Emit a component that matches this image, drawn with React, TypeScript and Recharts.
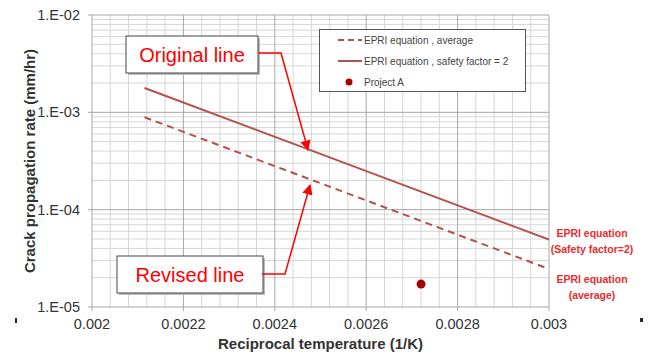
import React from 'react';
import { ComposedChart, Line, Scatter, XAxis, YAxis, ReferenceLine, Legend, Label } from 'recharts';

// reciprocal temperature (1/K) at both ends of the EPRI lines
const lineX = [0.002115, 0.003];
const averageRate = [8.9e-4, 2.46e-5];
const safetyRate = [1.78e-3, 4.92e-5];

const projectX = [0.00272];
const projectRate = [1.72e-5];

const xTicks = [0.002, 0.0022, 0.0024, 0.0026, 0.0028, 0.003];
const yTicks = [1e-5, 1e-4, 1e-3, 1e-2];

const averageData = lineX.map((x, i) => ({ x, y: averageRate[i] }));
const safetyData = lineX.map((x, i) => ({ x, y: safetyRate[i] }));
const projectData = projectX.map((x, i) => ({ x, y: projectRate[i] }));

// grid: 5 vertical subdivisions per major tick, log minors 2..9 per decade
const xMinor: number[] = [];
for (let i = 1; i < 25; i++) {
  if (i % 5 !== 0) xMinor.push(+(0.002 + i * 0.00004).toFixed(5));
}
const yMinor: number[] = [];
[-5, -4, -3].forEach((d) => {
  for (let k = 2; k <= 9; k++) yMinor.push(k * Math.pow(10, d));
});

const LINE_COLOR = '#b4504e';
const DOT_COLOR = '#a80000';
const MINOR = '#d6d6d6';
const MAJOR = '#a8a8a8';
const FONT = '"Liberation Sans", Arial, sans-serif';

const fmtY = (v: number) => {
  const e = Math.round(Math.log10(v));
  return `1.E-${String(Math.abs(e)).padStart(2, '0')}`;
};
const fmtX = (v: number) => String(parseFloat(v.toFixed(4)));

const ChartLegend = () => (
  <svg width={207} height={63} style={{ display: 'block' }}>
    <rect x={0.5} y={0.5} width={206} height={62} fill="#fff" stroke="#555" />
    <line x1={19} x2={43} y1={11} y2={11} stroke={LINE_COLOR} strokeWidth={2} strokeDasharray="6 4" />
    <text x={45} y={14.5} fontSize={10} fill="#444" fontFamily={FONT}>EPRI equation , average</text>
    <line x1={19} x2={43} y1={32} y2={32} stroke={LINE_COLOR} strokeWidth={2} />
    <text x={45} y={35.5} fontSize={10} fill="#444" fontFamily={FONT}>EPRI equation , safety factor = 2</text>
    <circle cx={30} cy={53} r={3.5} fill={DOT_COLOR} />
    <text x={45} y={56.5} fontSize={10} fill="#444" fontFamily={FONT}>Project A</text>
  </svg>
);

const Callout = ({ x, y, w, h, text }: { x: number; y: number; w: number; h: number; text: string }) => (
  <g>
    <rect x={x + 2} y={y + 2} width={w} height={h} fill="#bbb" />
    <rect x={x} y={y} width={w} height={h} fill="#fff" stroke="#444" />
    <text x={x + w / 2} y={y + h / 2 + 7} textAnchor="middle" fontSize={20} fill="#ff0000" fontFamily={FONT}>
      {text}
    </text>
  </g>
);

export default function App() {
  return (
    <div style={{ position: 'absolute', left: 0, top: 0, width: 648, height: 356, background: '#fff', fontFamily: FONT }}>
      <ComposedChart width={648} height={356} margin={{ top: 15, right: 99, bottom: 0, left: 0 }}>
        <XAxis
          type="number"
          dataKey="x"
          domain={[0.002, 0.003]}
          ticks={xTicks}
          tickFormatter={fmtX}
          height={49}
          tick={{ fontSize: 14.5, fill: '#333' }}
          tickSize={4}
          tickMargin={8}
          tickLine={{ stroke: MAJOR }}
          axisLine={{ stroke: MAJOR }}
          allowDataOverflow
        >
          <Label
            value="Reciprocal temperature (1/K)"
            position="insideBottom"
            offset={7}
            style={{ fontSize: 15, fontWeight: 'bold', fill: '#333' }}
          />
        </XAxis>
        <YAxis
          type="number"
          dataKey="y"
          scale="log"
          domain={[1e-5, 1e-2]}
          ticks={yTicks}
          tickFormatter={fmtY}
          width={92}
          tick={{ fontSize: 14.5, fill: '#333' }}
          tickSize={4}
          tickMargin={8}
          tickLine={{ stroke: MAJOR }}
          axisLine={{ stroke: MAJOR }}
          allowDataOverflow
        >
          <Label
            value="Crack propagation rate (mm/hr)"
            angle={-90}
            position="insideLeft"
            offset={30}
            style={{ fontSize: 15, fontWeight: 'bold', fill: '#333', textAnchor: 'middle' }}
          />
        </YAxis>

        {xMinor.map((v) => (
          <ReferenceLine key={`xm${v}`} x={v} stroke={MINOR} strokeWidth={1} />
        ))}
        {yMinor.map((v) => (
          <ReferenceLine key={`ym${v}`} y={v} stroke={MINOR} strokeWidth={1} />
        ))}
        {xTicks.slice(1).map((v) => (
          <ReferenceLine key={`xM${v}`} x={v} stroke={MAJOR} strokeWidth={1} />
        ))}
        {yTicks.slice(1).map((v) => (
          <ReferenceLine key={`yM${v}`} y={v} stroke={MAJOR} strokeWidth={1} />
        ))}

        <Line
          data={averageData}
          dataKey="y"
          type="linear"
          stroke={LINE_COLOR}
          strokeWidth={2}
          strokeDasharray="7 5"
          dot={false}
          isAnimationActive={false}
        />
        <Line
          data={safetyData}
          dataKey="y"
          type="linear"
          stroke={LINE_COLOR}
          strokeWidth={2}
          dot={false}
          isAnimationActive={false}
        />
        <Scatter
          data={projectData}
          dataKey="y"
          isAnimationActive={false}
          shape={(p: any) => <circle cx={p.cx} cy={p.cy} r={4.5} fill={DOT_COLOR} />}
        />

        <Legend
          layout="vertical"
          align="center"
          verticalAlign="middle"
          content={() => <ChartLegend />}
          wrapperStyle={{ left: 319, top: 29, width: 207, height: 63 }}
        />
      </ComposedChart>

      <svg width={648} height={356} style={{ position: 'absolute', left: 0, top: 0, pointerEvents: 'none' }}>
        <defs>
          <marker id="arrow" viewBox="0 0 10 10" refX="9" refY="5" markerWidth="7" markerHeight="7" orient="auto-start-reverse">
            <path d="M0,0 L10,5 L0,10 z" fill="#ff0000" />
          </marker>
        </defs>

        <Callout x={126} y={36} w={132} h={37} text="Original line" />
        <polyline points="258,53 281,53 308,150" fill="none" stroke="#ff0000" strokeWidth={1.5} markerEnd="url(#arrow)" />

        <Callout x={117} y={256} w={146} h={37} text="Revised line" />
        <polyline points="262,274 285,274 310,185" fill="none" stroke="#ff0000" strokeWidth={1.5} markerEnd="url(#arrow)" />

        <g fontSize={10.5} fontWeight="bold" fill="#ee2a2a" textAnchor="middle" fontFamily={FONT}>
          <text x={592} y={237}>EPRI equation</text>
          <text x={592} y={253}>(Safety factor=2)</text>
          <text x={592} y={283}>EPRI equation</text>
          <text x={592} y={299}>(average)</text>
        </g>

        <rect x={15} y={318} width={2} height={5} fill="#1b2a44" />
        <rect x={640} y={318} width={3} height={4} fill="#1b2a44" />
      </svg>
    </div>
  );
}
